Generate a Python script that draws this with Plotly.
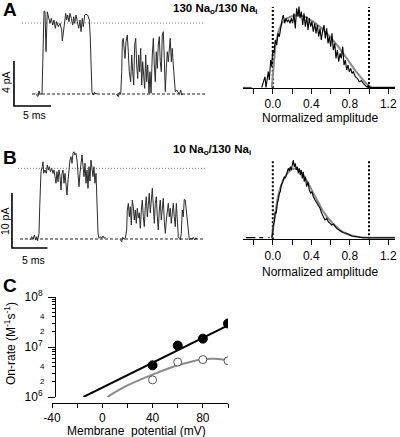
import plotly.graph_objects as go
import math

W, H = 400, 437
FONT = "Liberation Sans, Arial, sans-serif"

def px(x):
    return x / W

def py(y):
    return 1 - y / H

# ---------------- Panel A: single-channel recording (ms, pA) ----------------
A1_t = [0.07,0.27,0.41,0.54,0.68,0.95,1.04,1.12,1.22,1.35,1.49,1.66,1.85,2.03,2.20,2.39,2.57,2.74,2.93,3.15,3.38,3.61,3.69,3.82,3.96,4.15,4.28,4.42,4.59,4.73,4.91,5.09,5.23,5.36,5.54,5.72,5.91,6.08,6.22,6.39,6.53,6.72,6.89,7.12,7.34,7.47,7.57,7.70,7.88,8.01,8.24,8.38]
A1_i = [0,-0.09,-0.22,0.27,0,0,3.02,6.58,7.38,7.32,3.76,7.31,6.87,6.28,6.73,6.13,6.58,5.84,6.43,5.98,6.28,5.69,4.71,5.54,6.43,7.17,6.58,7.02,6.43,7.17,6.73,6.13,6.87,6.28,7.02,6.43,5.84,6.58,5.54,6.73,5.98,7.02,7.08,7.02,6.58,4.98,1.96,0.15,-0.09,0.15,0,0.04]
A2_t = [11.04,11.26,11.39,11.58,11.72,11.80,11.93,12.07,12.16,12.30,12.47,12.61,12.74,12.93,13.07,13.20,13.34,13.47,13.61,13.74,13.88,14.01,14.15,14.28,14.42,14.55,14.69,14.82,14.96,15.09,15.23,15.41,15.54,15.68,15.85,15.99,16.12,16.26,16.39,16.53,16.66,16.80,16.93,17.07,17.20,17.34,17.47,17.61,17.74,17.88,18.01,18.15,18.28,18.42,18.55,18.69,18.82,18.96,19.15,19.32,19.50,19.69,19.82,19.96]
A2_i = [0,-0.24,0.15,-0.03,1.98,4.64,4.94,4.06,3.17,4.64,5.24,3.76,1.98,1.09,3.47,1.98,0.80,4.36,4.95,2.58,1.39,3.47,1.98,4.06,0.80,2.87,1.39,0.50,3.47,1.09,2.58,0.06,1.98,0.06,3.47,4.95,2.58,1.09,3.76,2.28,4.36,5.10,2.87,1.98,5.24,5.54,3.17,0.21,2.28,3.76,2.87,4.36,4.95,2.87,4.06,2.58,0.80,0.21,0.36,0.15,-0.03,0.36,-0.09,-0.03]
A_open_level = 6.31  # pA
A_scale_pA, A_scale_ms = 4, 5

# ---------------- Panel A: amplitude histogram ----------------
HA_a = [-0.115,-0.081,-0.071,-0.047,-0.036,-0.022,-0.011,-0.001,0.012,0.026,0.041,0.054,0.068,0.082,0.096,0.109,0.124,0.137,0.151,0.165,0.179,0.192,0.207,0.220,0.234,0.248,0.262,0.272,0.283,0.296,0.311,0.324,0.338,0.353,0.366,0.379,0.394,0.407,0.421,0.436,0.449,0.463,0.477,0.491,0.504,0.519,0.532,0.546,0.560,0.574,0.587,0.602,0.615,0.629,0.644,0.657,0.671,0.685,0.699,0.712,0.727,0.740,0.754,0.768,0.782,0.795,0.810,0.823,0.837,0.858,0.879,0.899,0.920,0.941,0.962,0.982,0.993,1.010,1.27]
HA_c = [0,0.149,0,0.218,0.103,0.379,0.287,0.517,0.471,0.655,0.586,0.747,0.701,0.839,0.931,1.0,0.886,0.955,0.908,0.931,0.886,0.955,0.886,1.023,0.816,1.092,0.977,1.115,0.955,1.046,0.862,1.023,0.839,0.977,0.793,0.955,0.839,0.908,0.770,0.886,0.747,0.862,0.701,0.816,0.655,0.793,0.862,0.678,0.816,0.609,0.701,0.563,0.747,0.517,0.609,0.402,0.517,0.356,0.471,0.402,0.563,0.310,0.379,0.241,0.310,0.218,0.264,0.195,0.218,0.149,0.126,0.080,0.094,0.057,0.034,0.003,0.034,0,0]
HA_stub_a = [-0.31, -0.22]
HA_stub_c = [0, 0]
GA_a = [-0.01,0.005,0.026,0.057,0.093,0.144,0.213,0.265,0.335,0.421,0.508,0.595,0.681,0.768,0.854,0.924,0.976,1.028,1.27]
GA_c = [0,0.287,0.563,0.77,0.886,0.955,0.99,1.0,0.977,0.908,0.816,0.701,0.563,0.403,0.241,0.127,0.048,0.003,0]

# ---------------- Panel B: single-channel recording ----------------
B1_t = [0,0.24,0.46,0.61,0.80,0.94,1.08,1.27,1.37,1.45,1.55,1.73,1.83,1.93,2.11,2.30,2.44,2.58,2.72,2.86,3.06,3.24,3.38,3.52,3.66,3.80,3.94,4.08,4.23,4.37,4.51,4.65,4.79,4.93,5.07,5.21,5.35,5.49,5.63,5.77,5.92,6.06,6.20,6.34,6.48,6.62,6.76,6.90,7.04,7.18,7.32,7.46,7.61,7.75,7.89,8.03,8.17,8.31,8.45,8.59,8.73,8.87,9.01,9.15,9.30,9.44,9.58,9.72,9.90,10.10,10.28,10.46,10.66]
B1_i = [-0.18,0.42,-0.05,0.73,-0.18,0.42,-0.31,1.04,5.87,11.33,12.24,13.15,14.05,11.94,12.55,11.94,13.45,12.55,13.15,12.24,12.85,11.94,12.55,11.33,10.13,12.24,10.42,12.55,11.33,8.91,11.94,12.55,10.13,11.94,9.22,8.00,10.55,12.85,14.36,14.96,13.76,15.58,15.87,15.27,15.58,14.36,12.55,9.51,11.94,14.36,15.27,13.45,11.33,13.76,10.13,12.55,9.22,13.15,10.55,14.36,12.85,11.33,13.15,10.13,11.94,5.87,1.04,0.13,0.42,0.13,0.55,0.13,0.31]
B2_t = [12.68,12.92,13.06,13.24,13.42,13.62,13.70,13.85,13.99,14.13,14.27,14.41,14.55,14.69,14.83,14.97,15.11,15.25,15.39,15.54,15.68,15.82,15.96,16.10,16.24,16.38,16.52,16.66,16.80,16.94,17.08,17.23,17.37,17.51,17.65,17.79,17.93,18.07,18.21,18.35,18.49,18.63,18.77,18.92,19.06,19.20,19.34,19.48,19.62,19.76,19.90,20.04,20.18,20.32,20.46,20.61,20.75,20.89,21.03,21.17,21.31,21.45,21.59,21.73,21.87,22.01,22.15,22.30,22.44,22.63,22.82,23.00,23.20,23.38,23.56]
B2_i = [-0.05,-0.49,0.31,-0.05,0.13,1.64,5.27,6.49,4.05,5.87,2.55,7.09,5.87,3.45,5.27,2.85,5.58,3.85,4.76,1.95,5.27,7.09,4.05,2.24,5.87,7.69,4.05,5.87,8.31,4.76,7.09,9.22,5.87,2.85,6.49,7.69,4.05,1.64,5.27,7.09,3.45,5.87,7.40,3.15,1.04,3.45,5.27,6.49,4.05,5.58,2.85,4.98,6.49,4.05,2.24,6.49,2.85,0.42,0.13,-0.18,1.04,5.27,4.05,7.22,7.09,5.27,2.85,0.42,-0.18,0.13,-0.05,0.31,-0.18,0.24,-0.05]
B_open_level = 12.85
B_scale_pA, B_scale_ms = 10, 5

# ---------------- Panel B: amplitude histogram ----------------
HB_a = [-0.011,-0.001,0.005,0.016,0.026,0.036,0.047,0.057,0.068,0.078,0.088,0.099,0.109,0.120,0.130,0.140,0.151,0.161,0.172,0.182,0.192,0.203,0.213,0.223,0.234,0.244,0.255,0.265,0.275,0.286,0.296,0.307,0.317,0.327,0.338,0.352,0.366,0.379,0.394,0.407,0.421,0.439,0.456,0.473,0.491,0.508,0.525,0.543,0.560,0.577,0.595,0.612,0.629,0.664,0.699,0.733,0.768,0.820,0.872,0.941,1.27]
HB_c = [0,0.063,0.183,0.231,0.375,0.352,0.496,0.543,0.640,0.663,0.759,0.784,0.832,0.879,0.856,0.928,0.951,1.0,0.965,1.023,0.976,1.048,1.120,1.023,1.072,0.976,1.023,0.928,1.0,0.903,0.976,0.856,0.951,0.807,0.879,0.735,0.807,0.687,0.640,0.663,0.591,0.543,0.504,0.447,0.424,0.352,0.303,0.255,0.280,0.231,0.207,0.183,0.197,0.135,0.101,0.072,0.063,0.024,0.014,0,0]
HB_stub_a = [-0.28, -0.18, None, -0.14, -0.10, None, -0.045, -0.035]
HB_stub_c = [0, 0, None, 0, 0, None, 0, 0]
GB_a = [-0.011,0.005,0.023,0.047,0.075,0.109,0.151,0.196,0.231,0.275,0.317,0.369,0.421,0.473,0.525,0.577,0.629,0.699,0.768,0.837,0.906,0.993,1.27]
GB_c = [0,0.135,0.327,0.543,0.712,0.832,0.928,0.986,1.0,0.976,0.903,0.784,0.640,0.496,0.375,0.280,0.197,0.111,0.053,0.024,0.006,0,0]

# ---------------- Panel C: on-rate vs membrane potential ----------------
C_V = [40, 60, 80, 100]
C_on_130 = [4.3e6, 1.07e7, 1.47e7, 2.95e7]
C_on_10 = [2.2e6, 5.0e6, 5.6e6, 5.3e6]
C_fit130_V = [-15, 100]
C_fit130 = [1.0e6, 2.7e7]
C_fit10_V = [4, 20, 40, 60, 80, 90, 100]
C_fit10 = [1.0e6, 1.7e6, 2.8e6, 4.3e6, 5.7e6, 5.8e6, 5.4e6]

TRACE_COL = "#2b2b2b"
GRAY = "#8a8a8a"

fig = go.Figure()

def line(x, y, xa, ya, color, width, dash="solid", shape="linear"):
    fig.add_trace(go.Scatter(x=x, y=y, xaxis=xa, yaxis=ya, mode="lines",
                             line=dict(color=color, width=width, dash=dash, shape=shape),
                             hoverinfo="skip", showlegend=False, connectgaps=False))

# A left
line([-1.76, 22.97], [A_open_level]*2, "x", "y", "#777777", 1, "1px,2px")
line([-0.4, 22.97], [0, 0], "x", "y", "#222222", 1, "3px,2px")
line(A1_t, A1_i, "x", "y", TRACE_COL, 1)
line(A2_t, A2_i, "x", "y", TRACE_COL, 1)
line([-2.84, -2.84, -2.84 + A_scale_ms], [2.93, 2.93 - A_scale_pA, 2.93 - A_scale_pA], "x", "y", "black", 1.6)

# A hist
line([0, 0], [-0.007, 1.11], "x2", "y2", "black", 2, "2px,2px")
line([1, 1], [-0.007, 1.11], "x2", "y2", "black", 2, "2px,2px")
line(GA_a, GA_c, "x2", "y2", GRAY, 2)
line(HA_stub_a, HA_stub_c, "x2", "y2", "#555555", 1.2)
line(HA_a, HA_c, "x2", "y2", "black", 1.1)

# B left
line([-1.69, 24.65], [B_open_level]*2, "x3", "y3", "#777777", 1, "1px,2px")
line([-1.41, 24.65], [0, 0], "x3", "y3", "#222222", 1, "3px,2px")
line(B1_t, B1_i, "x3", "y3", TRACE_COL, 1)
line(B2_t, B2_i, "x3", "y3", TRACE_COL, 1)
line([-2.54, -2.54, -2.54 + B_scale_ms], [8.36, 8.36 - B_scale_pA, 8.36 - B_scale_pA], "x3", "y3", "black", 1.6)

# B hist
line([0, 0], [-0.023, 1.105], "x4", "y4", "black", 2, "2px,2px")
line([1, 1], [-0.023, 1.105], "x4", "y4", "black", 2, "2px,2px")
line(GB_a, GB_c, "x4", "y4", GRAY, 2)
line(HB_stub_a, HB_stub_c, "x4", "y4", "black", 1.2)
line(HB_a, HB_c, "x4", "y4", "black", 1.1)

# C
line(C_fit130_V, C_fit130, "x5", "y5", "black", 2)
line(C_fit10_V, C_fit10, "x5", "y5", GRAY, 2, shape="spline")
fig.add_trace(go.Scatter(x=C_V, y=C_on_130, xaxis="x5", yaxis="y5", mode="markers",
                         marker=dict(size=9, color="black", line=dict(color="black", width=1)),
                         showlegend=False, hoverinfo="skip"))
fig.add_trace(go.Scatter(x=C_V, y=C_on_10, xaxis="x5", yaxis="y5", mode="markers",
                         marker=dict(size=8, color="white", line=dict(color="#555555", width=1)),
                         showlegend=False, hoverinfo="skip"))

hidden = dict(visible=False, showgrid=False, zeroline=False)
hist_x = dict(
    range=[-0.3098, 1.2703], showline=True, linecolor="black", linewidth=1,
    ticks="outside", ticklen=5, tickwidth=1, tickcolor="black",
    tickvals=[-0.2, 0, 0.2, 0.4, 0.6, 0.8, 1.0, 1.2],
    ticktext=["", "0.0", "", "0.4", "", "0.8", "", "1.2"],
    showgrid=False, zeroline=False, tickfont=dict(size=12, color="black", family=FONT),
    domain=[px(243), px(395)], automargin=False,
)

fig.update_layout(
    width=W, height=H, margin=dict(l=0, r=0, t=0, b=0, pad=0, autoexpand=False),
    paper_bgcolor="white", plot_bgcolor="rgba(0,0,0,0)",
    font=dict(family=FONT, color="black", size=12),
    xaxis=dict(domain=[0, px(205)], range=[-35/7.4, 170/7.4], anchor="y", **hidden),
    yaxis=dict(domain=[py(125), 1], range=[-31/11.25, 94/11.25], anchor="x", **hidden),
    xaxis2=dict(anchor="y2", **hist_x),
    yaxis2=dict(domain=[py(88), 1], range=[-0.0069, 1.2069], anchor="x2", **hidden),
    xaxis3=dict(domain=[0, px(205)], range=[-30/7.1, 175/7.1], anchor="y3", **hidden),
    yaxis3=dict(domain=[py(262), py(140)], range=[-23/5.5, 99/5.5], anchor="x3", **hidden),
    xaxis4=dict(anchor="y4", **hist_x),
    yaxis4=dict(domain=[py(239.3), py(150)], range=[-0.023, 1.264], anchor="x4", **hidden),
    xaxis5=dict(domain=[px(52), px(228)], range=[-40, 100], anchor="free", position=py(403),
                showline=True, linecolor="black", linewidth=1, ticks="outside", ticklen=4,
                tickcolor="black", tickvals=[-40, -20, 0, 20, 40, 60, 80, 100],
                ticktext=["-40", "", "0", "", "40", "", "80", ""], automargin=False,
                showgrid=False, zeroline=False, tickfont=dict(size=12, color="black")),
    yaxis5=dict(domain=[py(397), py(297)], type="log", range=[6, 8], anchor="free", position=px(55),
                showline=True, linecolor="black", linewidth=1, ticks="outside", ticklen=7,
                tickcolor="black", tickvals=[1e6, 1e7, 1e8], automargin=False,
                ticktext=["10<sup>6</sup>", "10<sup>7</sup>", "10<sup>8</sup>"],
                ticklabelstandoff=3,
                minor=dict(ticks="outside", ticklen=3, tickcolor="black",
                           tickvals=[2e6, 3e6, 4e6, 5e6, 6e6, 7e6, 8e6, 9e6,
                                     2e7, 3e7, 4e7, 5e7, 6e7, 7e7, 8e7, 9e7]),
                showgrid=False, zeroline=False, tickfont=dict(size=12, color="black")),
)

ann = []
def text(x, y, s, size=12, bold=False, angle=0, xanchor="center", xref="paper", yref="paper"):
    ann.append(dict(x=x, y=y, xref=xref, yref=yref, text=("<b>%s</b>" % s) if bold else s,
                    showarrow=False, font=dict(size=size, color="black", family=FONT),
                    textangle=angle, xanchor=xanchor, yanchor="middle"))

text(px(1), py(9), "A", 19, True, xanchor="left")
text(px(1), py(158), "B", 19, True, xanchor="left")
text(px(1), py(285), "C", 19, True, xanchor="left")
text(px(171), py(9), "130 Na<sub>o</sub>/130 Na<sub>i</sub>", 11.5, True, xanchor="left")
text(px(171), py(150), "10 Na<sub>o</sub>/130 Na<sub>i</sub>", 11.5, True, xanchor="left")
text(px(6), py(82), "4 pA", 10.5, angle=-90)
text(px(34), py(115), "5 ms", 10.5)
text(px(5), py(222), "10 pA", 10.5, angle=-90)
text(px(33), py(260), "5 ms", 10.5)
text(px(320), py(118), "Normalized amplitude", 12)
text(px(320), py(272), "Normalized amplitude", 12)
text(px(10), py(344), "On-rate (M<sup>-1</sup>s<sup>-1</sup>)", 12, angle=-90)
text(px(136), py(431), "Membrane  potential (mV)", 12)
for v in [2e6, 4e6, 2e7, 4e7]:
    text(px(42), math.log10(v), str(int(round(v / 10 ** math.floor(math.log10(v))))), 8,
         yref="y5")
fig.update_layout(annotations=ann)

fig.write_html("out.html",
               config={"displayModeBar": False, "staticPlot": True},
               post_script="document.body.style.margin='0';document.body.style.padding='0';")
